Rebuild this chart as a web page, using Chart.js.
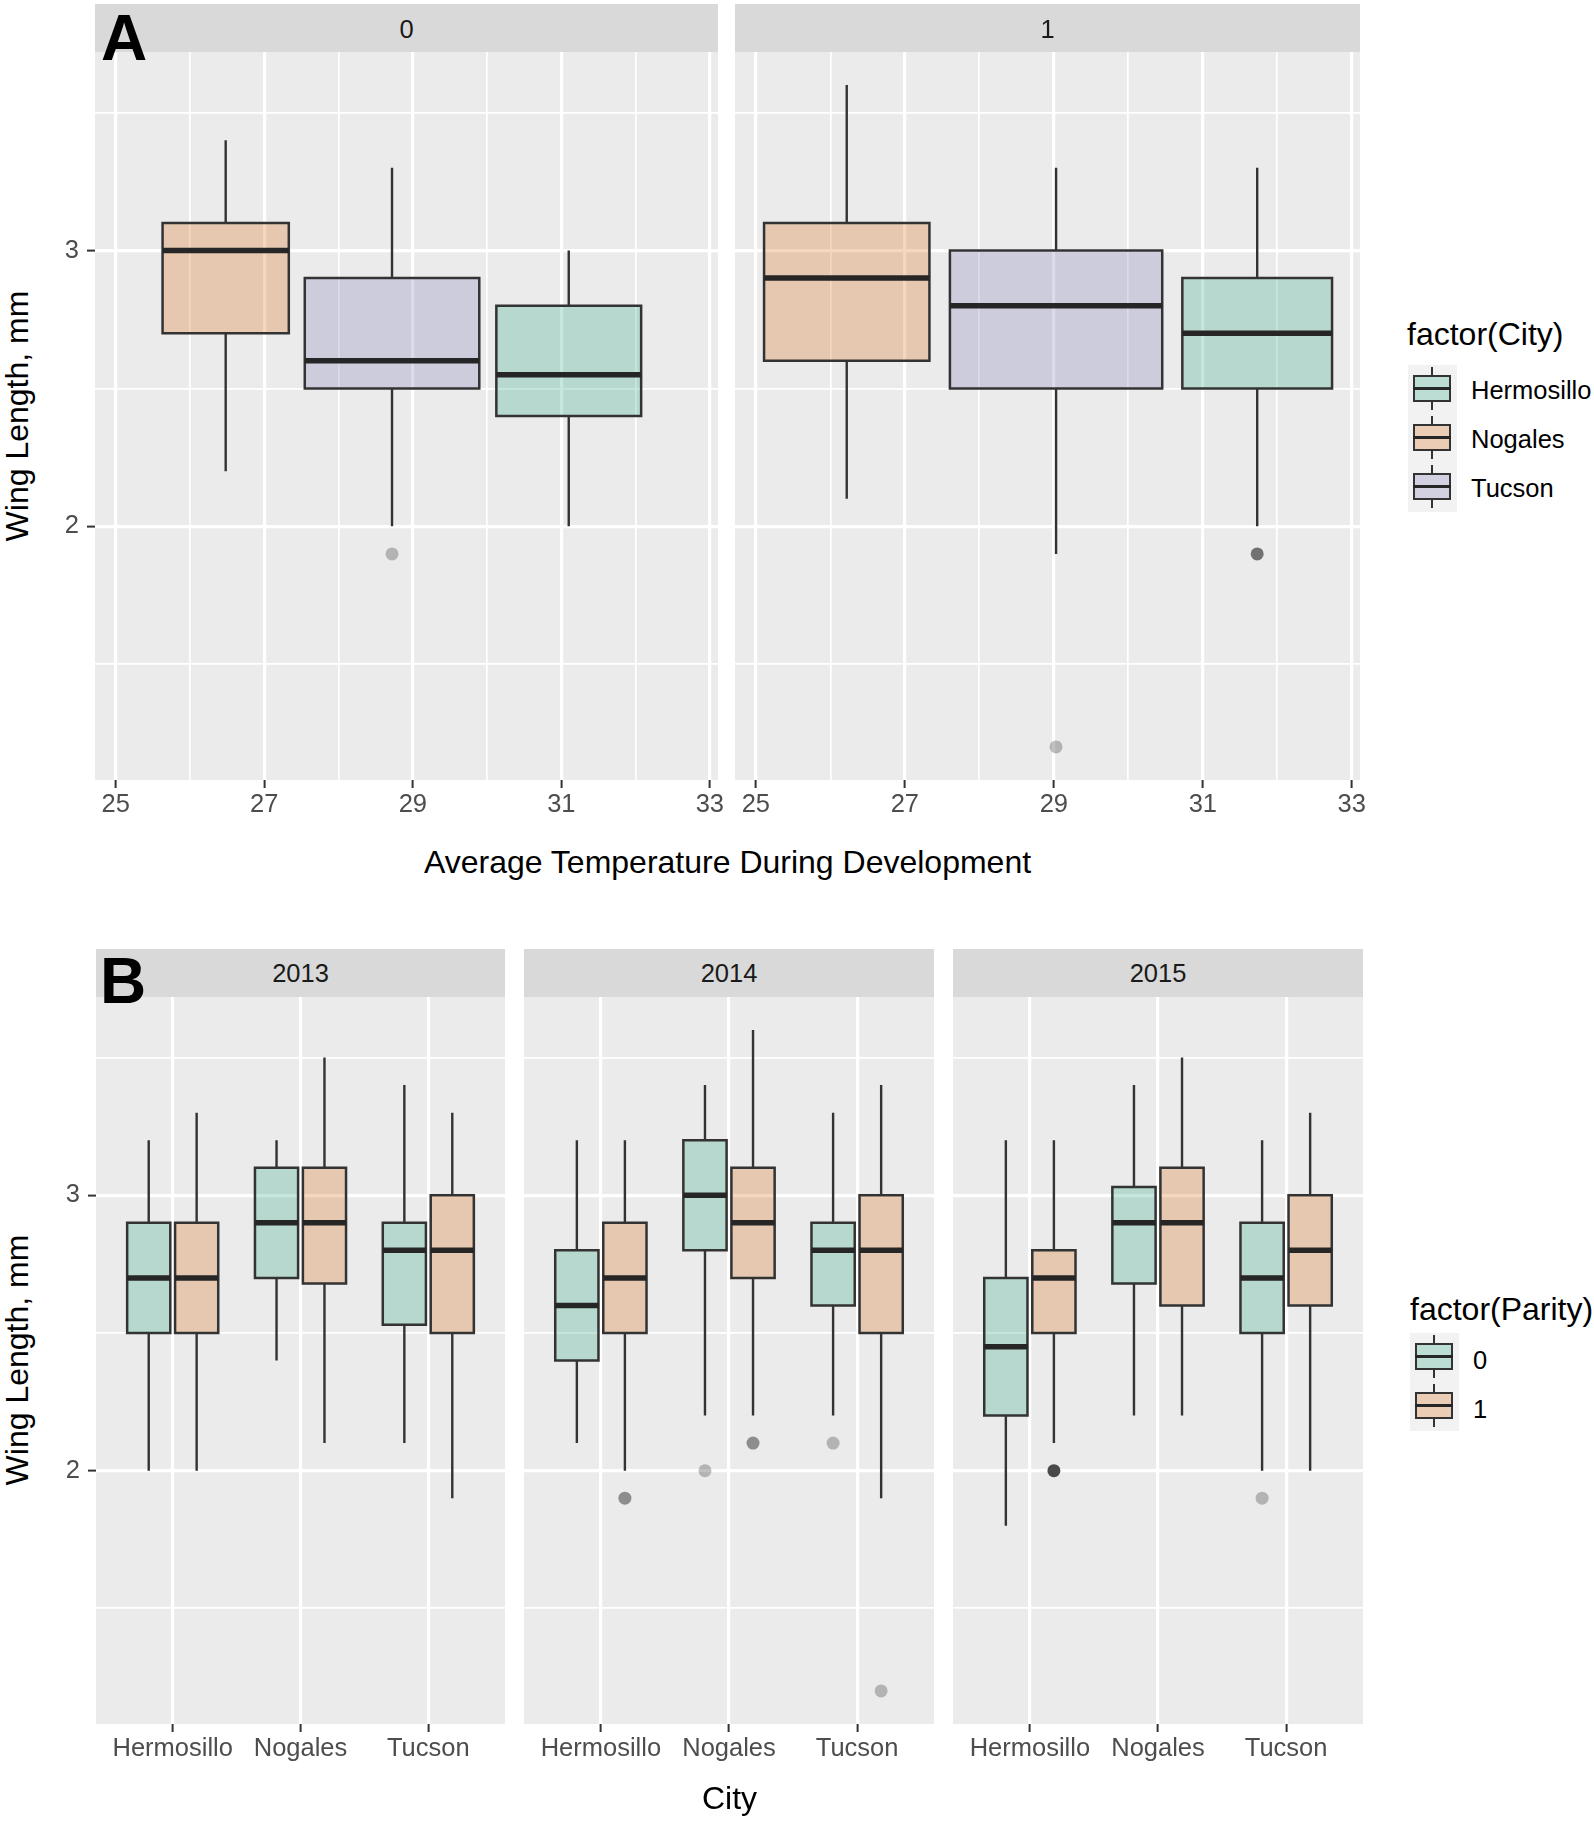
<!DOCTYPE html>
<html>
<head>
<meta charset="utf-8">
<title>Wing length boxplots</title>
<script src="https://cdn.jsdelivr.net/npm/chart.js"></script>
<style>
  html, body { margin: 0; padding: 0; background: #ffffff; }
  #page { position: relative; width: 1594px; height: 1822px; overflow: hidden;
          font-family: 'Liberation Sans', Arial, Helvetica, sans-serif; }
  #page canvas { position: absolute; }
  .txt { position: absolute; white-space: nowrap; color: #000; }
  .strip { position: absolute; background: #D9D9D9; }
  .key { position: absolute; width: 49px; height: 49px; background: #F2F2F2; }
  .key div { position: absolute; }
</style>
</head>
<body>
<div id="page"></div>
<script>
// ---------------- data ----------------
const cities = ['Hermosillo', 'Nogales', 'Tucson'];
const parityLevels = ['0', '1'];
const years = ['2013', '2014', '2015'];

const tempTicks = [25, 26, 27, 28, 29, 30, 31, 32, 33];
const tempTickLabels = ['25', '', '27', '', '29', '', '31', '', '33'];
const wingTicks = [1.5, 2, 2.5, 3, 3.5];
const wingTickLabels = ['', '2', '', '3', ''];
const cityTicks = [1, 2, 3];

// Panel A: one facet per parity level, entries follow `cities`
const tempMidA  = [[31.10, 26.48, 28.72], [31.73, 26.22, 29.03]];
const tempSpanA = [[1.95, 1.70, 2.35], [2.01, 2.22, 2.85]];
const wingMinA  = [[2.0, 2.2, 2.0], [2.0, 2.1, 1.9]];
const wingQ1A   = [[2.4, 2.7, 2.5], [2.5, 2.6, 2.5]];
const wingMedA  = [[2.55, 3.0, 2.6], [2.7, 2.9, 2.8]];
const wingQ3A   = [[2.8, 3.1, 2.9], [2.9, 3.1, 3.0]];
const wingMaxA  = [[3.0, 3.4, 3.3], [3.3, 3.6, 3.3]];
// outliers: [wing length, number of overlapping points]
const outliersA = [[[], [], [[1.9, 1]]], [[[1.9, 3]], [], [[1.2, 1]]]];

// Panel B: one facet per year, [parity 0 by city, parity 1 by city]
const wingMinB = [
  [[2.0, 2.4, 2.1], [2.0, 2.1, 1.9]],
  [[2.1, 2.2, 2.2], [2.0, 2.2, 1.9]],
  [[1.8, 2.2, 2.0], [2.1, 2.2, 2.0]]
];
const wingQ1B = [
  [[2.5, 2.7, 2.53], [2.5, 2.68, 2.5]],
  [[2.4, 2.8, 2.6], [2.5, 2.7, 2.5]],
  [[2.2, 2.68, 2.5], [2.5, 2.6, 2.6]]
];
const wingMedB = [
  [[2.7, 2.9, 2.8], [2.7, 2.9, 2.8]],
  [[2.6, 3.0, 2.8], [2.7, 2.9, 2.8]],
  [[2.45, 2.9, 2.7], [2.7, 2.9, 2.8]]
];
const wingQ3B = [
  [[2.9, 3.1, 2.9], [2.9, 3.1, 3.0]],
  [[2.8, 3.2, 2.9], [2.9, 3.1, 3.0]],
  [[2.7, 3.03, 2.9], [2.8, 3.1, 3.0]]
];
const wingMaxB = [
  [[3.2, 3.2, 3.4], [3.3, 3.5, 3.3]],
  [[3.2, 3.4, 3.3], [3.2, 3.6, 3.4]],
  [[3.2, 3.4, 3.2], [3.2, 3.5, 3.3]]
];
const outliersB = [
  [[[], [], []], [[], [], []]],
  [[[], [[2.0, 1]], [[2.1, 1]]], [[[1.9, 2]], [[2.1, 2]], [[1.2, 1]]]],
  [[[], [], [[1.9, 1]]], [[[2.0, 6]], [], []]]
];

// ---------------- style / layout ----------------
const cityFills = ['rgba(27,158,119,0.25)', 'rgba(217,95,2,0.25)', 'rgba(117,112,179,0.25)'];
const parityFills = ['rgba(27,158,119,0.25)', 'rgba(217,95,2,0.25)'];
const INK = '#333333';
const MAJOR_GRID = 3.2, MINOR_GRID = 1.7;
const DODGE = 0.1875, BOX_W = 0.3375;
const Y_RANGE = [1.08, 3.72];
const TICK_FONT = 25.5, TITLE_FONT = 32;

const panelA = { top: 52, bottom: 780, xRange: [24.72, 33.11], facets: [[95, 718], [735, 1360]] };
const panelB = { top: 997, bottom: 1724, xRange: [0.4, 3.6], facets: [[96, 505], [524, 934], [953, 1363]] };

Chart.defaults.font.family = "'Liberation Sans', Arial, Helvetica, sans-serif";

const page = document.getElementById('page');

const panelBackground = {
  id: 'panelBackground',
  beforeDraw(chart) {
    const a = chart.chartArea;
    const ctx = chart.ctx;
    ctx.save();
    ctx.fillStyle = '#EBEBEB';
    ctx.fillRect(a.left, a.top, a.right - a.left, a.bottom - a.top);
    ctx.restore();
  }
};

function outlierColour(n) {
  return 'rgba(51,51,51,' + (1 - Math.pow(0.7, n)).toFixed(3) + ')';
}

function boxplotSets(xc, halfW, s, colour) {
  const x0 = xc - halfW, x1 = xc + halfW;
  const base = { type: 'line', pointRadius: 0, borderColor: INK, fill: false, tension: 0 };
  return [
    { ...base, order: 4, borderWidth: 0, borderColor: 'rgba(0,0,0,0)', backgroundColor: colour,
      fill: { value: s.q1 }, data: [{ x: x0, y: s.q3 }, { x: x1, y: s.q3 }] },
    { ...base, order: 3, borderWidth: 2.4,
      data: [{ x: xc, y: s.max }, { x: xc, y: s.q3 }, { x: xc, y: null }, { x: xc, y: s.q1 }, { x: xc, y: s.min }] },
    { ...base, order: 3, borderWidth: 2.5, borderCapStyle: 'square',
      data: [{ x: x0, y: s.q1 }, { x: x0, y: s.q3 }, { x: x1, y: s.q3 }, { x: x1, y: s.q1 }, { x: x0, y: s.q1 }] },
    { ...base, order: 2, borderWidth: 5.5, borderColor: '#262626',
      data: [{ x: x0, y: s.med }, { x: x1, y: s.med }] }
  ];
}

function outlierSet(points) {
  return {
    type: 'line', order: 1, showLine: false, pointRadius: 6.5, pointBorderWidth: 0,
    pointBorderColor: 'rgba(0,0,0,0)',
    pointBackgroundColor: points.map(p => outlierColour(p.n)),
    data: points.map(p => ({ x: p.x, y: p.y }))
  };
}

function noPadding(s) {
  s.paddingLeft = 0; s.paddingRight = 0; s.paddingTop = 0; s.paddingBottom = 0;
}

function facetChart(o) {
  const padL = o.yLabels ? 60 : 0;
  const axisH = 60;
  const cv = document.createElement('canvas');
  cv.width = o.right - o.left + padL + o.padR;
  cv.height = o.bottom - o.top + axisH;
  cv.style.left = (o.left - padL) + 'px';
  cv.style.top = o.top + 'px';
  page.appendChild(cv);

  const isMajorX = c => o.xLabels[c.index] !== '';
  const isMajorY = c => wingTickLabels[c.index] !== '';

  return new Chart(cv, {
    type: 'line',
    data: { datasets: o.datasets },
    options: {
      responsive: false,
      devicePixelRatio: 1,
      animation: false,
      events: [],
      layout: { autoPadding: false, padding: { left: 0, right: o.padR, top: 0, bottom: 0 } },
      elements: { point: { radius: 0 }, line: { tension: 0 } },
      plugins: { legend: { display: false }, tooltip: { enabled: false } },
      scales: {
        x: {
          type: 'linear', bounds: 'data', min: o.xRange[0], max: o.xRange[1],
          afterBuildTicks: s => { s.ticks = o.xTicks.map(v => ({ value: v })); },
          afterFit: s => { s.height = axisH; noPadding(s); },
          border: { display: false },
          grid: {
            color: '#FFFFFF',
            lineWidth: c => isMajorX(c) ? MAJOR_GRID : MINOR_GRID,
            tickColor: c => isMajorX(c) ? INK : 'rgba(0,0,0,0)',
            tickLength: 8, tickWidth: 2
          },
          ticks: {
            autoSkip: false, maxRotation: 0, minRotation: 0, padding: 2,
            color: '#4D4D4D', font: { size: TICK_FONT },
            callback: (v, i) => o.xLabels[i]
          }
        },
        y: {
          type: 'linear', bounds: 'data', min: Y_RANGE[0], max: Y_RANGE[1],
          afterBuildTicks: s => { s.ticks = wingTicks.map(v => ({ value: v })); },
          afterFit: s => { s.width = padL; noPadding(s); },
          border: { display: false },
          grid: {
            color: '#FFFFFF',
            lineWidth: c => isMajorY(c) ? MAJOR_GRID : MINOR_GRID,
            drawTicks: o.yLabels,
            tickColor: c => isMajorY(c) ? INK : 'rgba(0,0,0,0)',
            tickLength: 8, tickWidth: 2
          },
          ticks: {
            display: o.yLabels, autoSkip: false, padding: 8,
            color: '#4D4D4D', font: { size: TICK_FONT },
            callback: (v, i) => wingTickLabels[i]
          }
        }
      }
    },
    plugins: [panelBackground]
  });
}

// ---------------- text helpers ----------------
function addText(str, x, baseline, size, opt = {}) {
  const d = document.createElement('div');
  d.className = 'txt';
  d.textContent = str;
  d.style.fontSize = size + 'px';
  d.style.lineHeight = size + 'px';
  d.style.top = (baseline - 0.8465 * size) + 'px';
  if (opt.bold) d.style.fontWeight = 'bold';
  if (opt.color) d.style.color = opt.color;
  if (opt.center) {
    d.style.left = (x - 500) + 'px';
    d.style.width = '1000px';
    d.style.textAlign = 'center';
  } else {
    d.style.left = x + 'px';
  }
  page.appendChild(d);
  return d;
}

function addYTitle(str, baselineX, centreY, size) {
  const w = 700;
  const d = document.createElement('div');
  d.className = 'txt';
  d.textContent = str;
  d.style.fontSize = size + 'px';
  d.style.lineHeight = size + 'px';
  d.style.width = w + 'px';
  d.style.textAlign = 'center';
  d.style.left = (baselineX - 0.8465 * size) + 'px';
  d.style.top = (centreY + w / 2) + 'px';
  d.style.transformOrigin = '0 0';
  d.style.transform = 'rotate(-90deg)';
  page.appendChild(d);
}

function addStrip(label, left, right, top, bottom, baseline) {
  const s = document.createElement('div');
  s.className = 'strip';
  s.style.left = left + 'px';
  s.style.top = top + 'px';
  s.style.width = (right - left) + 'px';
  s.style.height = (bottom - top) + 'px';
  page.appendChild(s);
  addText(label, (left + right) / 2, baseline, TICK_FONT, { center: true, color: '#1A1A1A' });
}

function addKey(left, top, fillColour) {
  const k = document.createElement('div');
  k.className = 'key';
  k.style.left = left + 'px';
  k.style.top = top + 'px';
  k.innerHTML =
    '<div style="left:23px;top:2px;width:2px;height:9px;background:' + INK + '"></div>' +
    '<div style="left:23px;top:36px;width:2px;height:9px;background:' + INK + '"></div>' +
    '<div style="left:5px;top:10px;width:38px;height:27px;box-sizing:border-box;border:2px solid ' + INK + ';background:' + fillColour + '"></div>' +
    '<div style="left:5px;top:22px;width:38px;height:3px;background:#262626"></div>';
  page.appendChild(k);
}

// ---------------- panel A ----------------
panelA.facets.forEach((fx, f) => {
  let sets = [];
  const outPts = [];
  cities.forEach((c, ci) => {
    const s = { min: wingMinA[f][ci], q1: wingQ1A[f][ci], med: wingMedA[f][ci], q3: wingQ3A[f][ci], max: wingMaxA[f][ci] };
    sets = sets.concat(boxplotSets(tempMidA[f][ci], tempSpanA[f][ci] / 2, s, cityFills[ci]));
    outliersA[f][ci].forEach(o => outPts.push({ x: tempMidA[f][ci], y: o[0], n: o[1] }));
  });
  if (outPts.length) sets.push(outlierSet(outPts));
  facetChart({
    left: fx[0], right: fx[1], top: panelA.top, bottom: panelA.bottom, padR: 20,
    yLabels: f === 0, xRange: panelA.xRange, xTicks: tempTicks, xLabels: tempTickLabels, datasets: sets
  });
  addStrip(parityLevels[f], fx[0], fx[1], 4, panelA.top, 39);
});

// ---------------- panel B ----------------
panelB.facets.forEach((fx, yi) => {
  let sets = [];
  const outPts = [];
  cities.forEach((c, ci) => {
    parityLevels.forEach((p, pi) => {
      const xc = cityTicks[ci] + (pi === 0 ? -DODGE : DODGE);
      const s = { min: wingMinB[yi][pi][ci], q1: wingQ1B[yi][pi][ci], med: wingMedB[yi][pi][ci], q3: wingQ3B[yi][pi][ci], max: wingMaxB[yi][pi][ci] };
      sets = sets.concat(boxplotSets(xc, BOX_W / 2, s, parityFills[pi]));
      outliersB[yi][pi][ci].forEach(o => outPts.push({ x: xc, y: o[0], n: o[1] }));
    });
  });
  if (outPts.length) sets.push(outlierSet(outPts));
  facetChart({
    left: fx[0], right: fx[1], top: panelB.top, bottom: panelB.bottom, padR: 0,
    yLabels: yi === 0, xRange: panelB.xRange, xTicks: cityTicks, xLabels: cities, datasets: sets
  });
  addStrip(years[yi], fx[0], fx[1], 949, panelB.top, 983);
});

// ---------------- titles, tags, legends ----------------
addText('A', 101, 60.5, 64, { bold: true });
addText('B', 100, 1003, 64, { bold: true });

addText('Average Temperature During Development', 727.5, 873, TITLE_FONT, { center: true });
addText('City', 729.5, 1809, TITLE_FONT, { center: true });
addYTitle('Wing Length, mm', 28.5, 416, TITLE_FONT);
addYTitle('Wing Length, mm', 28.5, 1360, TITLE_FONT);

addText('factor(City)', 1407, 345, TITLE_FONT);
cities.forEach((c, i) => {
  const top = 365 + i * 49;
  addKey(1408, top, cityFills[i]);
  addText(c, 1471, top + 34.5, TICK_FONT, { color: '#000' });
});

addText('factor(Parity)', 1410, 1320, TITLE_FONT);
parityLevels.forEach((p, i) => {
  const top = 1333 + i * 49;
  addKey(1410, top, parityFills[i]);
  addText(p, 1473, top + 37, TICK_FONT, { color: '#000' });
});
</script>
</body>
</html>
